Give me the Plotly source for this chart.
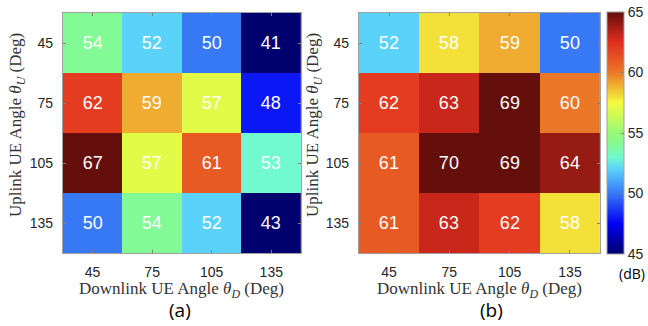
import plotly.graph_objects as go

# ---- data ----
downlink_angles = ["45", "75", "105", "135"]   # x categories (Deg)
uplink_angles = ["45", "75", "105", "135"]     # y categories (Deg), top to bottom
values_a = [
    [54, 52, 50, 41],
    [62, 59, 57, 48],
    [67, 57, 61, 53],
    [50, 54, 52, 43],
]
values_b = [
    [52, 58, 59, 50],
    [62, 63, 69, 60],
    [61, 70, 69, 64],
    [61, 63, 62, 58],
]
cbar_ticks = [45, 50, 55, 60, 65]
panel_labels = ["(a)", "(b)"]

W, H = 648, 326
def px_x(v):
    return v / W
def px_y(v):
    return 1 - v / H

jet_soft = [
    [0.000, "rgb(0,0,110)"],
    [0.125, "rgb(0,0,245)"],
    [0.250, "rgb(55,120,245)"],
    [0.350, "rgb(90,210,250)"],
    [0.400, "rgb(112,250,205)"],
    [0.450, "rgb(130,250,150)"],
    [0.500, "rgb(150,250,120)"],
    [0.625, "rgb(245,250,60)"],
    [0.750, "rgb(235,120,40)"],
    [0.875, "rgb(225,45,30)"],
    [1.000, "rgb(100,15,12)"],
]

fig = go.Figure()
for i, vals in enumerate([values_a, values_b]):
    fig.add_trace(go.Heatmap(
        x=downlink_angles, y=uplink_angles, z=vals,
        text=[[str(v) for v in row] for row in vals],
        texttemplate="%{text}",
        textfont=dict(family="Liberation Sans, Arial", size=18, color="white"),
        coloraxis="coloraxis",
        xaxis="x" if i == 0 else "x2",
        yaxis="y" if i == 0 else "y2",
        xgap=0, ygap=0,
        hoverinfo="skip",
    ))

tickfont = dict(family="Liberation Sans, Arial", size=14, color="#262626")
axis_common = dict(
    type="category", showline=True, linecolor="#a0a0a0", linewidth=1,
    mirror="allticks", ticks="inside", ticklen=3, tickcolor="#808080",
    tickfont=tickfont, showgrid=False, zeroline=False, fixedrange=True,
)

left_dom = [px_x(63), px_x(302)]
right_dom = [px_x(360), px_x(602)]
y_dom = [px_y(253), px_y(13)]

fig.update_layout(
    width=W, height=H,
    margin=dict(l=0, r=0, t=0, b=0),
    paper_bgcolor="white", plot_bgcolor="white",
    xaxis=dict(domain=left_dom, anchor="y", ticklabelstandoff=6, **axis_common),
    yaxis=dict(domain=y_dom, anchor="x", autorange="reversed", ticklabelstandoff=6, **axis_common),
    xaxis2=dict(domain=right_dom, anchor="y2", ticklabelstandoff=6, **axis_common),
    yaxis2=dict(domain=y_dom, anchor="x2", autorange="reversed", ticklabelstandoff=6, **axis_common),
    coloraxis=dict(
        cmin=45, cmax=65, colorscale=jet_soft,
        colorbar=dict(
            x=px_x(609), xanchor="left", xref="paper",
            y=px_y(254), yanchor="bottom", yref="paper",
            len=(254 - 12) / H, lenmode="fraction",
            thickness=17, thicknessmode="pixels",
            outlinewidth=1, outlinecolor="#a0a0a0",
            tickvals=cbar_ticks, ticks="inside", ticklen=3, tickcolor="#808080",
            tickfont=tickfont, ypad=0, xpad=0,
        ),
    ),
    showlegend=False,
)

title_font = dict(family="Liberation Serif, Times New Roman, serif", size=17, color="#333333")
annotations = []
for cx in [182.5, 481]:
    annotations.append(dict(
        text="Downlink UE Angle <i>θ</i><sub><i>D</i></sub> (Deg)",
        x=px_x(cx), y=px_y(290), xref="paper", yref="paper",
        xanchor="center", yanchor="middle", showarrow=False, font=title_font,
    ))
for cx in [17, 315]:
    annotations.append(dict(
        text="Uplink UE Angle <i>θ</i><sub><i>U</i></sub> (Deg)",
        x=px_x(cx), y=px_y(125), xref="paper", yref="paper",
        xanchor="center", yanchor="middle", showarrow=False, font=title_font,
        textangle=-90,
    ))
for lbl, cx in zip(panel_labels, [181, 493]):
    annotations.append(dict(
        text=lbl, x=px_x(cx), y=px_y(310), xref="paper", yref="paper",
        xanchor="center", yanchor="middle", showarrow=False,
        font=dict(family="Open Sans, Lato, sans-serif", size=19, color="black"),
    ))
annotations.append(dict(
    text="(dB)", x=px_x(634), y=px_y(273), xref="paper", yref="paper",
    xanchor="center", yanchor="middle", showarrow=False,
    font=dict(family="Open Sans, Lato, sans-serif", size=14, color="black"),
))
fig.update_layout(annotations=annotations)

fig.write_html("out.html")
